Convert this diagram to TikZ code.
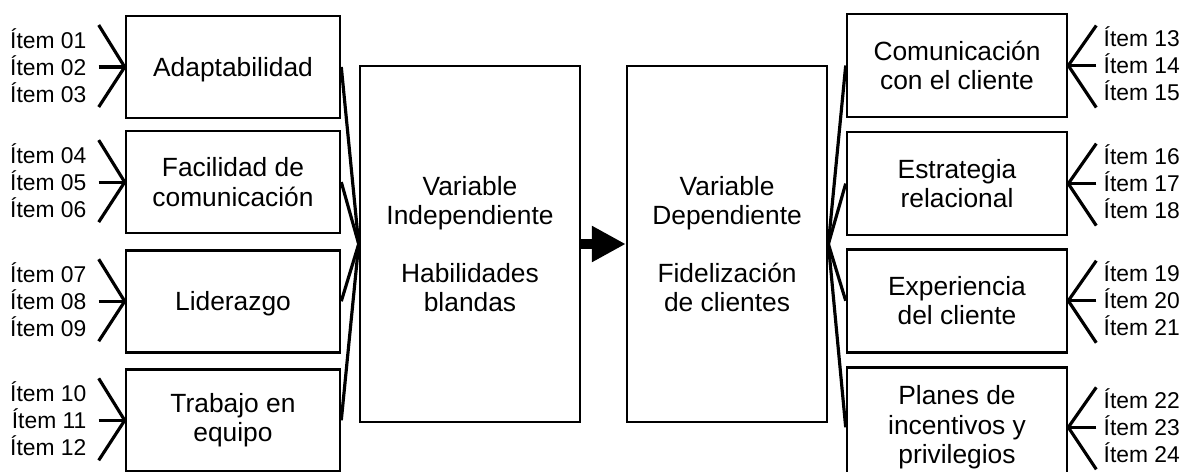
\documentclass[tikz,border=0pt]{standalone}
\usepackage{fontspec}
\setmainfont{Liberation Sans}
\usepackage{tikz}
\usetikzlibrary{arrows.meta, positioning, calc}
\tikzset{
  basebox/.style={rectangle,draw=black,line width=1.5pt,align=center,inner sep=0pt,font=\fontsize{15}{16.6}\selectfont},
  dimnode/.style={basebox,minimum width=4.28cm,minimum height=2.04cm},
  indnode/.style={basebox,minimum width=4.4cm,minimum height=2.06cm},
  varnode/.style={basebox,minimum height=7.12cm},
  itemnode/.style={inner sep=0pt,font=\fontsize{13}{15}\selectfont},
  link/.style={line width=1.8pt},
  bigarr/.style={-{Triangle[length=0.68cm,width=0.68cm]},line width=6.2pt}
}

\begin{document}
\begin{tikzpicture}[x=0.02cm,y=-0.02cm]
  \useasboundingbox (0,0) rectangle (1188,471);
  % variable independiente
  \node[dimnode,text depth=0pt] (adapt) at (233,67) {Adaptabilidad};
  \node[dimnode,below=0.21cm of adapt] (facil) {Facilidad de\\comunicación};
  \node[dimnode,text depth=0pt,below=0.29cm of facil] (lider) {Liderazgo};
  \node[dimnode,below=0.29cm of lider] (trab) {Trabajo en\\equipo};
  \node[varnode,minimum width=4.4cm] (vi) at (470,244) {Variable\\Independiente\\[16.6pt]Habilidades\\blandas};

  % variable dependiente
  \node[varnode,minimum width=4.0cm,right=0.89cm of vi] (vd) {Variable\\Dependiente\\[16.6pt]Fidelización\\de clientes};
  \node[indnode] (comu) at (957,65.5) {Comunicación\\con el cliente};
  \node[indnode,below=0.25cm of comu] (estr) {Estrategia\\relacional};
  \node[indnode,below=0.23cm of estr] (exper) {Experiencia\\del cliente};
  \node[indnode,minimum height=2.4cm,below=0.25cm of exper] (planes) {Planes de\\incentivos y\\privilegios};

  \draw[bigarr] (vi) -- (vd);
  \foreach \bx in {adapt,facil,lider,trab} \draw[link] (\bx.east) -- (vi.west);
  \foreach \bx in {comu,estr,exper,planes} \draw[link] (\bx.west) -- (vd.east);

  % items
  \foreach \bx/\ita/\itb/\itc in {adapt/01/02/03,facil/04/05/06,lider/07/08/09,trab/10/11/12}{
    \node[itemnode,anchor=base east] (i\ita) at ($(\bx.west)+(-38,-19)$) {Ítem \ita};
    \node[itemnode,anchor=base east] (i\itb) at ($(\bx.west)+(-38,8)$) {Ítem \itb};
    \node[itemnode,anchor=base east] (i\itc) at ($(\bx.west)+(-38,35)$) {Ítem \itc};
    \coordinate (p\ita) at ($(\bx.west)+(-26,-42)$);
    \coordinate (p\itb) at ($(\bx.west)+(-26,0)$);
    \coordinate (p\itc) at ($(\bx.west)+(-26,40)$);
    \draw[link] (p\ita) -- (\bx.west);
    \draw[link] (p\itb) -- (\bx.west);
    \draw[link] (p\itc) -- (\bx.west);
  }
  \foreach \bx/\ita/\itb/\itc in {comu/13/14/15,estr/16/17/18,exper/19/20/21,planes/22/23/24}{
    \node[itemnode,anchor=base west] (i\ita) at ($(\bx.east)+(35,-19)$) {Ítem \ita};
    \node[itemnode,anchor=base west] (i\itb) at ($(\bx.east)+(35,8)$) {Ítem \itb};
    \node[itemnode,anchor=base west] (i\itc) at ($(\bx.east)+(35,35)$) {Ítem \itc};
    \coordinate (p\ita) at ($(\bx.east)+(28,-40)$);
    \coordinate (p\itb) at ($(\bx.east)+(28,0)$);
    \coordinate (p\itc) at ($(\bx.east)+(28,42)$);
    \draw[link] (p\ita) -- (\bx.east);
    \draw[link] (p\itb) -- (\bx.east);
    \draw[link] (p\itc) -- (\bx.east);
  }
\end{tikzpicture}
\end{document}
